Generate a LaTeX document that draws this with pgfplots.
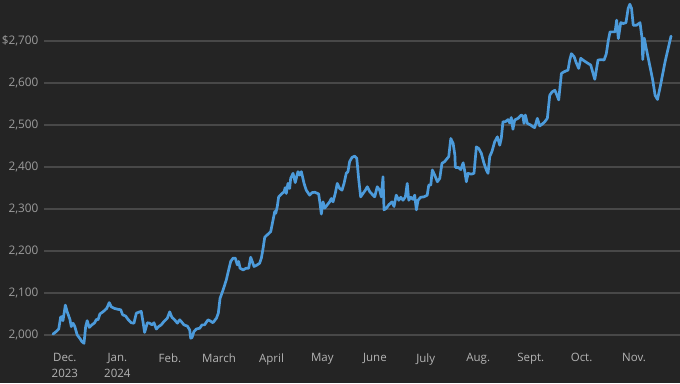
\documentclass[border=0pt]{standalone}
\usepackage{pgfplots}
\pgfplotsset{compat=1.18}
\usepackage{fontspec}
\setmainfont{Open Sans}
\definecolor{bg}{HTML}{242424}
\definecolor{gridc}{HTML}{484848}
\definecolor{ln}{HTML}{4C9BDB}
\definecolor{ylab}{HTML}{9C9C9C}
\definecolor{xlab}{HTML}{B4B4B4}
\begin{document}
\begin{tikzpicture}
\fill[bg] (0,0) rectangle (680pt,383pt);
\begin{axis}[
  at={(44pt,38pt)}, anchor=south west,
  width=636pt, height=345pt, scale only axis,
  xmin=-5.3, xmax=370.1, ymin=1976, ymax=2798,
  axis line style={draw=none},
  major tick length=0pt,
  ymajorgrids, grid style={gridc, line width=1.3pt},
  ytick={2000,2100,2200,2300,2400,2500,2600,2700},
  yticklabels={{2,000},{2,100},{2,200},{2,300},{2,400},{2,500},{2,600},{\$2,700}},
  yticklabel style={font=\fontsize{11.8}{14}\selectfont, text=ylab, xshift=-2pt},
  xtick={7,38,69,98,129,159,190,220,251,282,312,343},
  xticklabels={{Dec.\\2023},{Jan.\\2024},Feb.,March,April,May,June,July,Aug.,Sept.,Oct.,Nov.},
  xticklabel style={font=\fontsize{11.5}{15.7}\selectfont, text=xlab, align=center, yshift=-5pt},
]
\addplot[ln, line width=2.7pt, line join=round, line cap=round] coordinates {
(0,2002)(1.9,2008)(3.4,2014)(4.5,2042)(5.3,2044)(5.9,2034)(7.3,2071)(8.4,2055)(10.0,2037)(10.8,2020)
(11.8,2028)(12.8,2021)(14.3,2000)(15.8,1992)(17.1,1984)(18.3,1980)(19.3,2020)(20.2,2034)(21.4,2018)(23.0,2024)
(24.6,2029)(25.6,2037)(26.6,2036)(27.7,2050)(29.5,2055)(31.7,2063)(33.2,2077)(34.4,2067)(36.4,2063)(38.4,2061)
(40.0,2060)(41.1,2048)(42.9,2045)(44.3,2037)(46.2,2029)(47.8,2028)(49.2,2052)(50.6,2054)(52.1,2056)(53.1,2032)
(54.1,2006)(55.7,2029)(57.1,2028)(58.4,2024)(59.6,2029)(61.0,2014)(62.4,2020)(63.9,2024)(65.5,2032)(67.5,2040)
(68.9,2055)(70.2,2042)(71.8,2036)(73.4,2028)(74.8,2036)(75.7,2032)(77.3,2024)(79.3,2021)(80.7,2012)(81.3,1992)
(82.1,1994)(83.2,2008)(84.6,2014)(86.6,2016)(88.0,2024)(89.5,2024)(91.5,2036)(93.4,2032)(94.4,2029)(96.5,2040)
(97.6,2052)(98.6,2087)(100.4,2107)(102.3,2131)(103.7,2155)(104.9,2175)(106.3,2183)(107.6,2183)(108.8,2167)(109.6,2175)
(110.4,2159)(112.2,2155)(114.1,2159)(115.5,2159)(116.7,2185)(117.6,2175)(118.7,2163)(120.6,2167)(122.0,2171)(123.0,2183)
(124.0,2206)(125.0,2233)(126.9,2240)(128.5,2246)(129.9,2274)(130.9,2294)(131.5,2290)(132.4,2306)(133.2,2329)(135.2,2337)
(136.4,2341)(137.1,2351)(137.7,2337)(138.7,2361)(139.7,2349)(140.3,2373)(141.7,2385)(143.0,2363)(144.6,2389)(145.6,2381)
(146.6,2389)(148.2,2361)(149.5,2345)(151.5,2333)(152.9,2339)(154.5,2340)(156.8,2336)(157.6,2314)(158.4,2288)(159.4,2317)
(160.4,2302)(161.9,2310)(163.3,2317)(164.3,2325)(165.3,2317)(166.6,2337)(167.8,2361)(169.2,2349)(170.6,2345)(171.8,2361)
(173.1,2385)(174.1,2389)(175.1,2413)(176.5,2423)(178.1,2426)(179.3,2421)(180.5,2369)(181.6,2329)(183.0,2337)(184.4,2345)
(185.5,2353)(187.0,2341)(188.9,2333)(189.9,2329)(191.4,2353)(192.8,2345)(193.8,2329)(194.8,2377)(195.4,2298)(196.8,2302)
(198.2,2310)(200.1,2317)(201.3,2306)(202.6,2333)(204.1,2321)(205.3,2328)(206.6,2321)(208.0,2329)(209.1,2361)(210.0,2321)
(211.2,2328)(212.5,2323)(213.5,2333)(214.5,2298)(215.5,2321)(217.0,2328)(219.0,2329)(220.9,2333)(221.8,2357)(223.0,2357)
(223.9,2393)(225.3,2381)(226.9,2365)(228.3,2373)(229.6,2409)(231.2,2413)(232.8,2421)(233.6,2425)(234.8,2468)(236.2,2456)
(237.2,2429)(237.5,2399)(239.2,2399)(240.7,2394)(242.1,2410)(243.1,2389)(244.0,2365)(245.0,2385)(246.9,2383)(248.5,2385)
(249.9,2448)(251.3,2444)(252.8,2433)(254.4,2409)(255.8,2393)(256.8,2385)(257.8,2425)(259.1,2437)(260.7,2460)(262.3,2472)
(263.7,2452)(264.6,2468)(265.6,2508)(267.0,2508)(268.6,2513)(269.6,2505)(270.5,2518)(271.5,2490)(272.5,2512)(274.5,2516)
(276.4,2524)(277.4,2521)(278.0,2504)(278.8,2524)(280.0,2504)(282.0,2500)(283.3,2496)(284.3,2494)(285.9,2516)(287.3,2498)
(288.7,2502)(290.3,2508)(291.8,2516)(293.2,2571)(294.6,2579)(296.2,2583)(297.5,2571)(298.5,2560)(300.1,2623)(301.7,2627)
(304.0,2631)(305.0,2655)(306.0,2670)(307.6,2663)(308.9,2648)(310.3,2635)(311.5,2659)(313.5,2653)(315.4,2648)(317.4,2643)
(318.8,2623)(319.8,2609)(321.7,2655)(323.7,2656)(325.3,2655)(326.6,2670)(327.8,2702)(328.8,2722)(330.4,2722)(331.8,2722)
(332.7,2750)(333.7,2706)(335.1,2744)(336.6,2742)(338.2,2744)(339.5,2778)(340.5,2788)(341.5,2778)(342.5,2738)(344.5,2738)
(346.5,2744)(347.7,2707)(348.1,2656)(349.0,2707)(350.0,2686)(352.0,2647)(354.0,2607)(355.4,2571)(356.8,2561)(358.4,2591)
(361.3,2651)(364.8,2712)
};
\end{axis}
\pgfresetboundingbox
\path[use as bounding box] (0,0) rectangle (680pt,383pt);
\end{tikzpicture}
\end{document}
